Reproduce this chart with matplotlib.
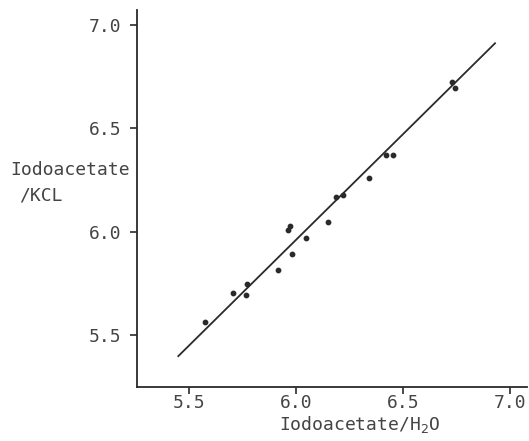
import matplotlib
matplotlib.use("Agg")
import matplotlib.pyplot as plt

# data
x_h2o = [5.575, 5.707, 5.766, 5.773, 5.917, 5.980, 5.962, 5.972, 6.045, 6.151,
         6.187, 6.218, 6.340, 6.421, 6.452, 6.727, 6.744]
y_kcl = [5.564, 5.704, 5.696, 5.746, 5.817, 5.894, 6.010, 6.030, 5.968, 6.046,
         6.167, 6.177, 6.260, 6.371, 6.373, 6.725, 6.695]

# fitted line end points
fit_x = [5.45, 6.93]
fit_y = [5.40, 6.91]

xticks = [5.5, 6.0, 6.5, 7.0]
yticks = [5.5, 6.0, 6.5, 7.0]

plt.rcParams['font.family'] = ['DejaVu Sans Mono']
ink = '#2a2a2a'
txt = '#444444'

fig = plt.figure(figsize=(5.29, 4.41), dpi=100)
ax = fig.add_axes([0.259, 0.122, 0.737, 0.855])

ax.plot(fit_x, fit_y, color=ink, lw=1.3)
ax.scatter(x_h2o, y_kcl, s=10, color=ink, zorder=3)

ax.set_xlim(5.257, 7.079)
ax.set_ylim(5.25, 7.07)
ax.set_xticks(xticks)
ax.set_yticks(yticks)
ax.set_xticklabels(['5.5', '6.0', '6.5', '7.0'])
ax.set_yticklabels(['5.5', '6.0', '6.5', '7.0'])

for s in ['top', 'right']:
    ax.spines[s].set_visible(False)
for s in ['left', 'bottom']:
    ax.spines[s].set_color(ink)
    ax.spines[s].set_linewidth(1.3)

ax.tick_params(axis='both', direction='out', length=5, width=1.2,
               color=ink, labelcolor=txt, labelsize=13)
ax.tick_params(axis='x', pad=0)
ax.tick_params(axis='y', pad=6)

ax.set_xlabel('Iodoacetate/H$_2$O', fontsize=13, color=txt, labelpad=0)
ax.xaxis.set_label_coords(0.57, -0.072)
fig.text(0.02, 0.615, 'Iodoacetate', fontsize=13, color=txt, ha='left', va='center')
fig.text(0.036, 0.557, '/KCL', fontsize=13, color=txt, ha='left', va='center')

fig.savefig('out.png', dpi=100, facecolor='white')
